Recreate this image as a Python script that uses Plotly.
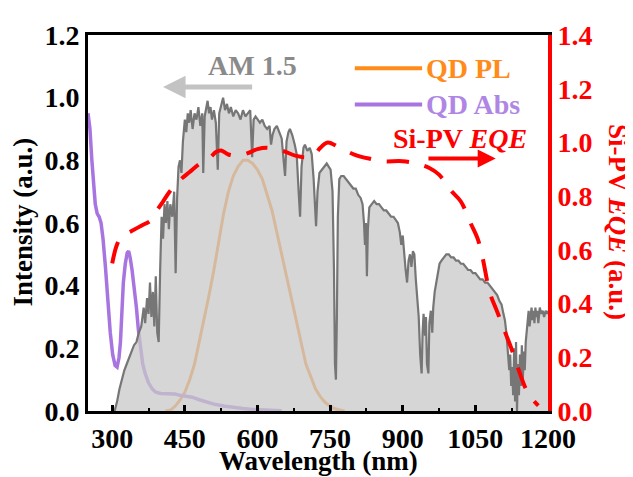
import plotly.graph_objects as go

# ---------------- data ----------------
am_wl = [305,310,315,320,325,330,335,340,345,350,355,360,365,368,372,375,378,381,384,387,390,393,396,399,
         402,405,408,411,414,417,420,424,428,431,434,437,440,443,446,450,453,456,459,462,466,470,474,478,482,486,
         488,491,494,497,500,503,506,510,514,518,521,525,529,533,537,541,545,550,555,560,565,570,575,580,585,589,
         592,596,600,605,610,615,620,625,628,631,635,640,645,650,654,657,660,664,667,672,677,681,685,688,691,695,
         698,703,708,712,716,719,721,724,728,733,738,743,747,751,755,758,760,762,764,766,769,773,778,783,788,793,
         798,803,808,813,817,820,822,824,826,828,831,836,841,846,851,856,861,866,871,876,881,886,890,894,897,900,
         903,906,909,912,915,918,921,924,927,930,933,936,939,941,943,946,948,950,953,955,958,961,963,966,969,972,
         976,980,985,990,995,1000,1005,1010,1015,1020,1025,1030,1035,1040,1045,1050,1055,1060,1065,1070,1075,1080,
         1085,1090,1095,1100,1104,1108,1111,1114,1117,1120,1122,1124,1126,1128,1130,1132,1134,1136,1138,1140,1142,
         1144,1146,1148,1150,1152,1154,1156,1158,1160,1162,1164,1166,1168,1170,1172,1174,1176,1178,1180,1183,1186,
         1189,1192,1195,1198,1200]
am_val = [0.00,0.03,0.07,0.10,0.13,0.15,0.17,0.19,0.21,0.22,0.25,0.27,0.33,0.28,0.36,0.31,0.41,0.30,0.38,0.27,0.43,0.25,0.22,0.45,
          0.62,0.55,0.66,0.60,0.67,0.58,0.66,0.62,0.70,0.44,0.68,0.78,0.80,0.76,0.86,0.93,0.89,0.95,0.92,0.96,0.90,0.95,0.93,0.97,0.91,0.95,
          0.76,0.94,0.97,0.99,0.95,0.97,0.93,0.96,0.92,0.77,0.95,0.98,1.00,0.96,0.98,0.95,0.97,0.94,0.96,0.95,0.93,0.96,0.94,0.95,0.96,0.81,
          0.93,0.94,0.93,0.92,0.93,0.91,0.90,0.91,0.85,0.88,0.90,0.91,0.89,0.87,0.80,0.75,0.86,0.89,0.90,0.88,0.85,0.82,0.70,0.62,0.78,0.84,
          0.85,0.83,0.84,0.82,0.74,0.65,0.59,0.70,0.76,0.77,0.78,0.79,0.78,0.77,0.70,0.45,0.15,0.10,0.30,0.62,0.74,0.75,0.75,0.74,0.73,0.72,
          0.71,0.71,0.69,0.68,0.66,0.60,0.53,0.60,0.43,0.58,0.65,0.66,0.67,0.66,0.66,0.65,0.64,0.64,0.63,0.62,0.62,0.61,0.60,0.57,0.53,0.56,
          0.49,0.45,0.41,0.48,0.50,0.46,0.51,0.50,0.42,0.35,0.30,0.18,0.12,0.25,0.31,0.24,0.30,0.15,0.12,0.28,0.32,0.25,0.33,0.38,0.41,0.44,
          0.47,0.48,0.49,0.50,0.50,0.49,0.49,0.48,0.48,0.47,0.47,0.46,0.45,0.45,0.44,0.44,0.43,0.42,0.42,0.41,0.41,0.40,
          0.39,0.38,0.37,0.35,0.34,0.31,0.29,0.25,0.20,0.13,0.18,0.08,0.14,0.05,0.20,0.03,0.22,0.00,0.15,0.05,0.18,
          0.08,0.21,0.10,0.19,0.13,0.22,0.25,0.28,0.32,0.27,0.31,0.33,0.29,0.32,0.28,0.33,0.30,0.32,0.28,0.33,0.31,
          0.32,0.30,0.32,0.31,0.32]

pl_wl = [410,420,430,440,450,460,470,480,490,500,510,520,530,540,550,560,570,580,590,600,610,620,630,640,
         650,660,670,680,690,700,710,720,730,740,750,760,770,780]
pl_val = [0.0,0.003,0.015,0.035,0.06,0.10,0.15,0.22,0.29,0.37,0.45,0.54,0.63,0.70,0.75,0.78,0.80,0.80,0.79,0.77,0.74,0.69,0.64,0.57,
          0.50,0.43,0.35,0.28,0.21,0.15,0.11,0.07,0.045,0.027,0.015,0.007,0.003,0.0]

abs_wl = [250,254,258,261,265,269,273,277,281,286,291,296,301,306,310,314,317,320,323,327,331,334,337,341,346,350,354,358,
          363,368,375,383,390,400,410,420,430,440,450,465,480,495,510,530,550,570,590,610,630,650]
abs_val = [0.95,0.90,0.80,0.72,0.66,0.63,0.62,0.60,0.55,0.46,0.35,0.25,0.18,0.145,0.14,0.17,0.22,0.32,0.41,0.47,0.505,0.51,0.49,0.45,0.39,0.33,0.26,0.20,
           0.15,0.12,0.09,0.07,0.06,0.056,0.055,0.055,0.054,0.05,0.048,0.044,0.036,0.029,0.022,0.016,0.011,0.008,0.005,0.003,0.002,0.001]

eqe_wl = [300,310,320,340,360,380,390,405,420,440,460,480,500,515,525,540,560,580,600,620,650,680,700,715,730,745,770,800,
          830,860,900,930,955,975,1000,1020,1040,1055,1065,1080,1095,1110,1125,1140,1155,1170,1180]
eqe_val = [0.55,0.62,0.65,0.67,0.69,0.71,0.74,0.78,0.82,0.86,0.89,0.92,0.94,0.965,0.97,0.955,0.95,0.96,0.975,0.98,0.97,0.95,0.945,0.95,0.98,1.00,0.98,0.955,
           0.94,0.93,0.93,0.92,0.905,0.88,0.82,0.78,0.70,0.64,0.57,0.44,0.37,0.30,0.23,0.15,0.08,0.04,0.02]

x_ticks = [300, 450, 600, 750, 900, 1050, 1200]

FONT = "Liberation Serif, Times New Roman, serif"
ORANGE = "#ff8c1a"
PURPLE = "#a874e0"
RED = "#ff0000"
FS = 28
TS = 27

fig = go.Figure()
fig.add_trace(go.Scatter(x=pl_wl, y=pl_val, mode="lines", line=dict(color=ORANGE, width=3), showlegend=False))
fig.add_trace(go.Scatter(x=abs_wl, y=abs_val, mode="lines", line=dict(color=PURPLE, width=3.5), showlegend=False))
fig.add_trace(go.Scatter(x=am_wl, y=am_val, mode="lines", fill="tozeroy",
                         fillcolor="rgba(200,200,200,0.75)", line=dict(color="#767676", width=2.2), showlegend=False))
fig.add_trace(go.Scatter(x=eqe_wl, y=eqe_val, mode="lines", yaxis="y2",
                         line=dict(color=RED, width=4, dash="22px,16px", shape="spline"), showlegend=False))

fig.update_layout(
    width=625, height=469,
    margin=dict(l=80, r=85, t=19, b=66),
    plot_bgcolor="white", paper_bgcolor="white",
    font=dict(family=FONT, size=FS, color="black", weight="bold"),
    xaxis=dict(range=[250, 1200], tickvals=x_ticks, ticks="inside", ticklen=6, tickwidth=2.5, tickcolor="black",
               minor=dict(ticks="inside", ticklen=3, tickwidth=2, tickcolor="black", dtick=75, tick0=300),
               showline=True, linewidth=3, linecolor="black", mirror=True, showgrid=False, zeroline=False,
               tickfont=dict(family=FONT, size=FS, color="black", weight="bold")),
    yaxis=dict(range=[0, 1.2], dtick=0.2, tickformat=".1f", ticks="", showline=True, linewidth=3,
               linecolor="black", showgrid=False, zeroline=False,
               tickfont=dict(family=FONT, size=FS, color="black", weight="bold")),
    yaxis2=dict(range=[0, 1.4], dtick=0.2, tickformat=".1f", overlaying="y", side="right", ticks="",
                showline=True, linewidth=4, linecolor=RED, showgrid=False, zeroline=False,
                tickfont=dict(family=FONT, size=FS, color=RED, weight="bold")),
)

ann = []
ann.append(dict(text="Wavelength (nm)", xref="paper", yref="paper", x=0.5, y=-0.133, xanchor="center", yanchor="middle",
                showarrow=False, font=dict(family=FONT, size=TS, color="black", weight="bold")))
ann.append(dict(text="Intensity (a.u.)", xref="paper", yref="paper", x=-0.142, y=0.503, textangle=-90,
                xanchor="center", yanchor="middle", showarrow=False,
                font=dict(family=FONT, size=TS, color="black", weight="bold")))
ann.append(dict(text="Si-PV <i>EQE</i> (a.u.)", xref="paper", yref="paper", x=1.152, y=0.503, textangle=90,
                xanchor="center", yanchor="middle", showarrow=False,
                font=dict(family=FONT, size=TS, color=RED, weight="bold")))
# AM 1.5 label + arrow
ann.append(dict(text="AM 1.5", x=589, y=1.103, xref="x", yref="y", showarrow=False,
                font=dict(family=FONT, size=FS, color="#8a8a8a", weight="bold")))
ann.append(dict(text="", x=405, y=1.034, ax=592, ay=1.034, xref="x", yref="y", axref="x", ayref="y",
                showarrow=True, arrowhead=2, arrowsize=0.9, arrowwidth=5, arrowcolor="#c3c3c3"))
# legend-like labels
ann.append(dict(text="QD PL", x=944, y=1.094, xref="x", yref="y", xanchor="left", showarrow=False,
                font=dict(family=FONT, size=FS, color=ORANGE, weight="bold")))
ann.append(dict(text="QD Abs", x=944, y=0.978, xref="x", yref="y", xanchor="left", showarrow=False,
                font=dict(family=FONT, size=FS, color="#b086e4", weight="bold")))
ann.append(dict(text="Si-PV <i>EQE</i>", x=1018, y=0.869, xref="x", yref="y", xanchor="center", showarrow=False,
                font=dict(family=FONT, size=FS, color=RED, weight="bold")))
ann.append(dict(text="", x=1092, y=0.806, ax=950, ay=0.806, xref="x", yref="y", axref="x", ayref="y",
                showarrow=True, arrowhead=2, arrowsize=0.9, arrowwidth=4, arrowcolor=RED))
fig.update_layout(annotations=ann)

fig.add_shape(type="line", xref="x", yref="y", x0=801, x1=940, y0=1.094, y1=1.094, line=dict(color=ORANGE, width=4))
fig.add_shape(type="line", xref="x", yref="y", x0=801, x1=940, y0=0.978, y1=0.978, line=dict(color=PURPLE, width=4))

fig.write_html("out.html")
